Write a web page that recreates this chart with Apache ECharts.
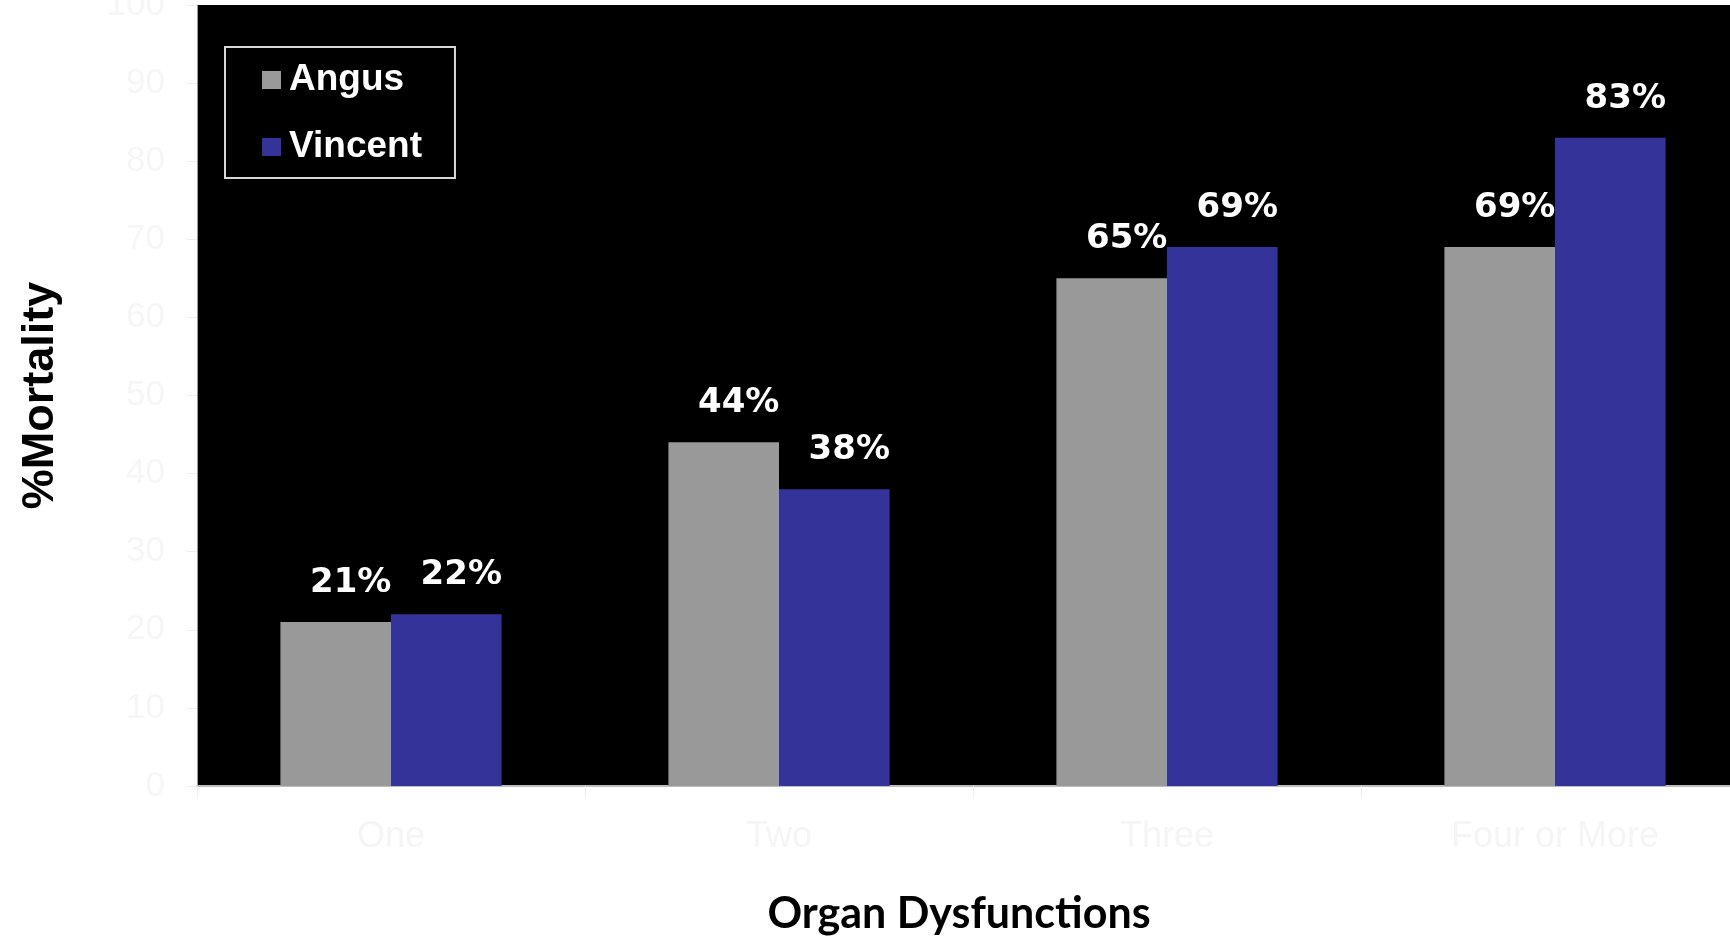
<!DOCTYPE html>
<html>
<head>
<meta charset="utf-8">
<script src="https://cdn.jsdelivr.net/npm/echarts@6/dist/echarts.min.js"></script>
<style>
  html, body { margin: 0; padding: 0; background: #ffffff; }
  #chart { width: 1730px; height: 937px; }
</style>
</head>
<body>
<div id="chart"></div>
<script>
// Mortality by number of organ dysfunctions, two studies
const categories = ['One', 'Two', 'Three', 'Four or More'];
const angus = [21, 44, 65, 69];
const vincent = [22, 38, 69, 83];
const yTicks = [0, 10, 20, 30, 40, 50, 60, 70, 80, 90, 100];

const chart = echarts.init(document.getElementById('chart'), null, { renderer: 'canvas' });

const valueLabel = {
  show: true,
  position: 'top',
  distance: 22,
  offset: [15, 0],
  color: '#ffffff',
  fontFamily: '"DejaVu Sans", sans-serif',
  fontWeight: 'bold',
  fontSize: 34,
  formatter: p => p.value + '%'
};

chart.setOption({
  backgroundColor: '#ffffff',
  animation: false,
  grid: {
    // the plot runs slightly past the right edge of the canvas
    left: 197, right: -19, top: 5, bottom: 151,
    containLabel: false,
    outerBoundsMode: 'none',
    show: true, backgroundColor: '#000000', borderWidth: 0
  },
  legend: {
    left: 225, top: 47,
    orient: 'vertical',
    padding: [13, 33, 11, 37],
    itemGap: 27,
    itemWidth: 19, itemHeight: 18,
    icon: 'rect',
    borderColor: '#d8d8d8', borderWidth: 2,
    backgroundColor: '#000000',
    textStyle: {
      color: '#ffffff',
      fontFamily: '"Liberation Sans", Arial, sans-serif',
      fontWeight: 'bold',
      fontSize: 37,
      lineHeight: 40,
      padding: [0, 0, 0, 3]
    },
    data: ['Angus', 'Vincent']
  },
  xAxis: {
    type: 'category',
    data: categories,
    name: 'Organ Dysfunctions',
    nameLocation: 'middle',
    nameGap: 107,
    nameTextStyle: {
      color: '#000000', fontFamily: 'Lato, "Open Sans", sans-serif',
      fontWeight: 'bold', fontSize: 43,
      padding: [0, 28, 0, 0]
    },
    axisLine: { lineStyle: { color: '#bdbdbd', width: 2 } },
    axisTick: { show: true, length: 12, lineStyle: { color: '#eeeeee' } },
    axisLabel: {
      color: '#f5f5f5', fontSize: 36, margin: 33,
      fontFamily: '"Liberation Sans", Arial, sans-serif'
    }
  },
  yAxis: {
    type: 'value',
    min: yTicks[0], max: yTicks[yTicks.length - 1], interval: 10,
    name: '%Mortality',
    nameLocation: 'middle',
    nameGap: 134,
    nameRotate: 90,
    nameTextStyle: {
      color: '#000000', fontFamily: '"Liberation Sans", Arial, sans-serif',
      fontWeight: 'bold', fontSize: 45
    },
    splitLine: { show: false },
    axisLine: { show: true, lineStyle: { color: '#9a9a9a', width: 1 } },
    axisTick: { show: true, length: 10, lineStyle: { color: '#eeeeee' } },
    axisLabel: {
      color: '#f6f6f6', fontSize: 35, margin: 32,
      fontFamily: '"Liberation Sans", Arial, sans-serif'
    }
  },
  series: [
    {
      name: 'Angus', type: 'bar', data: angus,
      itemStyle: { color: '#999999' },
      barGap: '0%', barCategoryGap: '43%',
      label: valueLabel
    },
    {
      name: 'Vincent', type: 'bar', data: vincent,
      itemStyle: { color: '#333399' },
      barGap: '0%', barCategoryGap: '43%',
      label: valueLabel
    }
  ]
});
</script>
</body>
</html>
